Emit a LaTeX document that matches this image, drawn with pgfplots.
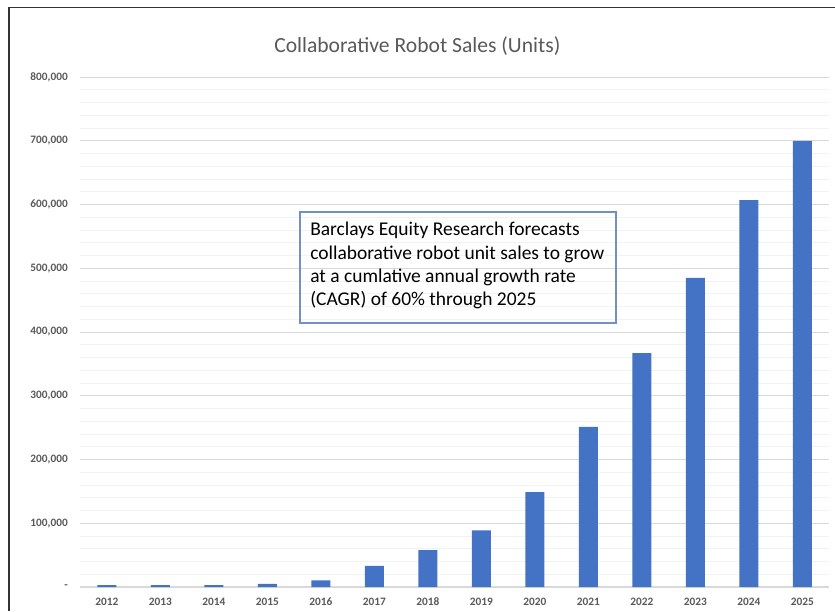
\documentclass[border=0pt]{standalone}
\usepackage{pgfplots}
\pgfplotsset{compat=1.18}
\usepackage{fontspec}
\setmainfont{Carlito}
\definecolor{barblue}{RGB}{68,114,196}
\definecolor{boxblue}{RGB}{114,143,200}
\definecolor{txtgray}{RGB}{89,89,89}
\definecolor{gridgray}{RGB}{217,217,217}
\definecolor{minorgray}{RGB}{242,242,242}
\begin{document}
\begin{tikzpicture}
\useasboundingbox (0,0) rectangle (626.25pt,458.25pt);
\draw[black!80, line width=1.1pt] (6.75pt,0) -- (6.75pt,452.6pt) -- (626.25pt,452.6pt);
\begin{axis}[
  at={(60pt,18pt)}, anchor=south west,
  scale only axis, width=561.75pt, height=382.5pt,
  xmin=-0.5, xmax=13.5, ymin=0, ymax=800000,
  axis line style={draw=none},
  scaled y ticks=false,
  ytick={0,100000,200000,300000,400000,500000,600000,700000,800000},
  yticklabels={{-},{100,000},{200,000},{300,000},{400,000},{500,000},{600,000},{700,000},{800,000}},
  minor ytick={20000,40000,60000,80000,120000,140000,160000,180000,220000,240000,260000,280000,320000,340000,360000,380000,420000,440000,460000,480000,520000,540000,560000,580000,620000,640000,660000,680000,720000,740000,760000,780000},
  ymajorgrids, yminorgrids,
  major grid style={gridgray, line width=0.75pt},
  minor grid style={minorgray, line width=0.75pt},
  xtick={0,...,13},
  xticklabels={2012,2013,2014,2015,2016,2017,2018,2019,2020,2021,2022,2023,2024,2025},
  major tick length=0pt, minor tick length=0pt,
  xticklabel style={anchor=base, inner sep=0pt, yshift=-13.5pt, font=\fontsize{8.5}{10}\selectfont\bfseries, text=txtgray},
  yticklabel style={anchor=east, inner sep=0pt, xshift=-9pt, font=\fontsize{8.5}{10}\selectfont\bfseries, text=txtgray},
  clip=false,
]
\draw[gridgray, line width=0.9pt] (axis cs:-0.5,0) -- (axis cs:13.5,0);
\addplot[ybar, bar width=14.25pt, fill=barblue, draw=none] coordinates {
(0,3000) (1,3000) (2,3000) (3,5000) (4,10500) (5,33000) (6,58000) (7,89000)
(8,149000) (9,251000) (10,367000) (11,485000) (12,607000) (13,700000)};
\end{axis}
\node[text=txtgray, font=\fontsize{16.2}{19}\selectfont] at (313pt,423.75pt) {Collaborative Robot Sales (Units)};
\draw[boxblue, line width=0.8pt] (225pt,216pt) rectangle (462pt,299.25pt);
\begin{scope}[every node/.style={anchor=base west, inner sep=0pt, font=\fontsize{14.6}{18}\selectfont}]
\node at (232.5pt,281.25pt) {Barclays Equity Research forecasts};
\node at (232.5pt,263.75pt) {collaborative robot unit sales to grow};
\node at (232.5pt,246.25pt) {at a cumlative annual growth rate};
\node at (232.5pt,228.75pt) {(CAGR) of 60\% through 2025};
\end{scope}
\end{tikzpicture}
\end{document}
